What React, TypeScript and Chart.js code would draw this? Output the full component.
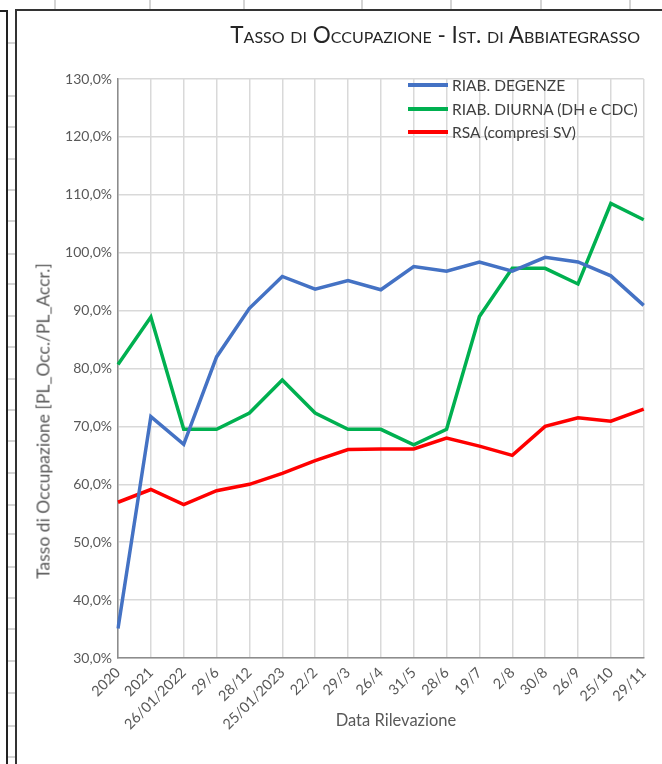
import React, { useEffect, useRef } from "react";
import { Chart, registerables } from "chart.js";

Chart.register(...registerables);

const categories = ["2020", "2021", "26/01/2022", "29/6", "28/12", "25/01/2023", "22/2", "29/3", "26/4", "31/5", "28/6", "19/7", "2/8", "30/8", "26/9", "25/10", "29/11"];
const degenze = [35.1, 71.7, 66.9, 82.0, 90.4, 95.9, 93.7, 95.2, 93.6, 97.6, 96.8, 98.4, 96.8, 99.2, 98.4, 96.0, 90.9];
const diurna = [80.7, 88.9, 69.5, 69.5, 72.3, 78.0, 72.3, 69.5, 69.5, 66.8, 69.5, 89.0, 97.3, 97.3, 94.6, 108.5, 105.7];
const rsa = [56.9, 59.1, 56.5, 58.9, 60.0, 61.9, 64.1, 66.0, 66.1, 66.1, 68.0, 66.6, 65.0, 70.0, 71.5, 70.9, 73.0];
const seriesNames = ["RIAB. DEGENZE", "RIAB. DIURNA (DH e CDC)", "RSA (compresi SV)"];
const seriesColors = ["#4472C4", "#00B050", "#FF0000"];
const yMin = 30;
const yMax = 130;
const yStep = 10;
const titleText = "Tasso di Occupazione - Ist. di Abbiategrasso";
const yTitle = "Tasso di Occupazione [PL_Occ./PL_Accr.]";
const xTitle = "Data Rilevazione";

const FONT = "Lato, 'Liberation Sans', sans-serif";
const topCols = [55, 150, 244, 362, 451, 541, 630];
const rowMarks = [43, 96, 127, 159, 190, 221, 254, 284, 316, 347, 379, 410, 441, 473, 505, 534, 567, 598, 629, 661, 693, 726, 757];

export default function App() {
  const ref = useRef<HTMLCanvasElement | null>(null);

  useEffect(() => {
    if (!ref.current) return;
    const values = [degenze, diurna, rsa];
    const chart = new Chart(ref.current, {
      type: "line",
      data: {
        labels: categories,
        datasets: values.map((v, i) => ({
          label: seriesNames[i],
          data: v,
          borderColor: seriesColors[i],
          backgroundColor: seriesColors[i],
          borderWidth: 3.5,
          pointRadius: 0,
          tension: 0,
          fill: false,
        })),
      },
      options: {
        responsive: false,
        animation: false,
        maintainAspectRatio: false,
        layout: { padding: { top: 68, right: 16, left: 0, bottom: 0 } },
        plugins: {
          legend: { display: false },
          title: { display: false },
          tooltip: { enabled: false },
        },
        scales: {
          x: {
            offset: false,
            grid: { color: "#d9d9d9", lineWidth: 1.5, drawTicks: false },
            border: { color: "#8c8c8c", width: 1.5 },
            ticks: {
              color: "#595959",
              font: { family: FONT, size: 14.5 },
              minRotation: 45,
              maxRotation: 45,
              autoSkip: false,
              padding: 6,
            },
            afterFit: (s: any) => {
              s.height = 106;
            },
          },
          y: {
            min: yMin,
            max: yMax,
            grid: { color: "#d9d9d9", lineWidth: 1.5, drawTicks: false },
            border: { color: "#8c8c8c", width: 1.5 },
            ticks: {
              stepSize: yStep,
              color: "#595959",
              font: { family: FONT, size: 14 },
              padding: 6,
              callback: (v: any) => Number(v).toFixed(1).replace(".", ",") + "%",
            },
            afterFit: (s: any) => {
              s.width = 101;
            },
          },
        },
      },
    });
    return () => chart.destroy();
  }, []);

  return (
    <div style={{ position: "fixed", left: 0, top: 0, width: 662, height: 764, overflow: "hidden", background: "#fff", fontFamily: FONT }}>
      {topCols.map((x) => (
        <div key={"c" + x} style={{ position: "absolute", left: x - 1, top: 0, width: 2, height: 9, background: "#d4d4d4" }} />
      ))}
      {rowMarks.map((y) => (
        <div key={"r" + y} style={{ position: "absolute", left: 8, top: y - 1, width: 7, height: 2, background: "#d4d4d4" }} />
      ))}
      <div style={{ position: "absolute", left: 0, top: 10, width: 8, height: 2, background: "#222" }} />
      <div style={{ position: "absolute", left: 6, top: 10, width: 2, height: 760, background: "#222" }} />
      <div style={{ position: "absolute", left: 15, top: 9, width: 700, height: 800, borderLeft: "2px solid #333", borderTop: "2px solid #333", boxSizing: "border-box" }} />
      <canvas ref={ref} width={645} height={753} style={{ position: "absolute", left: 17, top: 11, width: 645, height: 753 }} />
      <div style={{ position: "absolute", right: 22, top: 20, fontSize: 22.5, lineHeight: "30px", fontVariant: "small-caps", color: "#262626", whiteSpace: "nowrap" }}>{titleText}</div>
      {seriesNames.map((n, i) => (
        <div key={n} style={{ position: "absolute", left: 408, top: 75 + i * 23.5, height: 20, display: "flex", alignItems: "center", whiteSpace: "nowrap" }}>
          <div style={{ width: 40, height: 4, background: seriesColors[i], marginRight: 4 }} />
          <span style={{ fontSize: 15.5, color: "#404040" }}>{n}</span>
        </div>
      ))}
      <div style={{ position: "absolute", left: 43, top: 421, transform: "translate(-50%, -50%) rotate(-90deg)", fontSize: 17.5, color: "#595959", whiteSpace: "nowrap" }}>{yTitle}</div>
      <div style={{ position: "absolute", left: 396, top: 720, transform: "translate(-50%, -50%)", fontSize: 16.5, color: "#595959", whiteSpace: "nowrap" }}>{xTitle}</div>
    </div>
  );
}
